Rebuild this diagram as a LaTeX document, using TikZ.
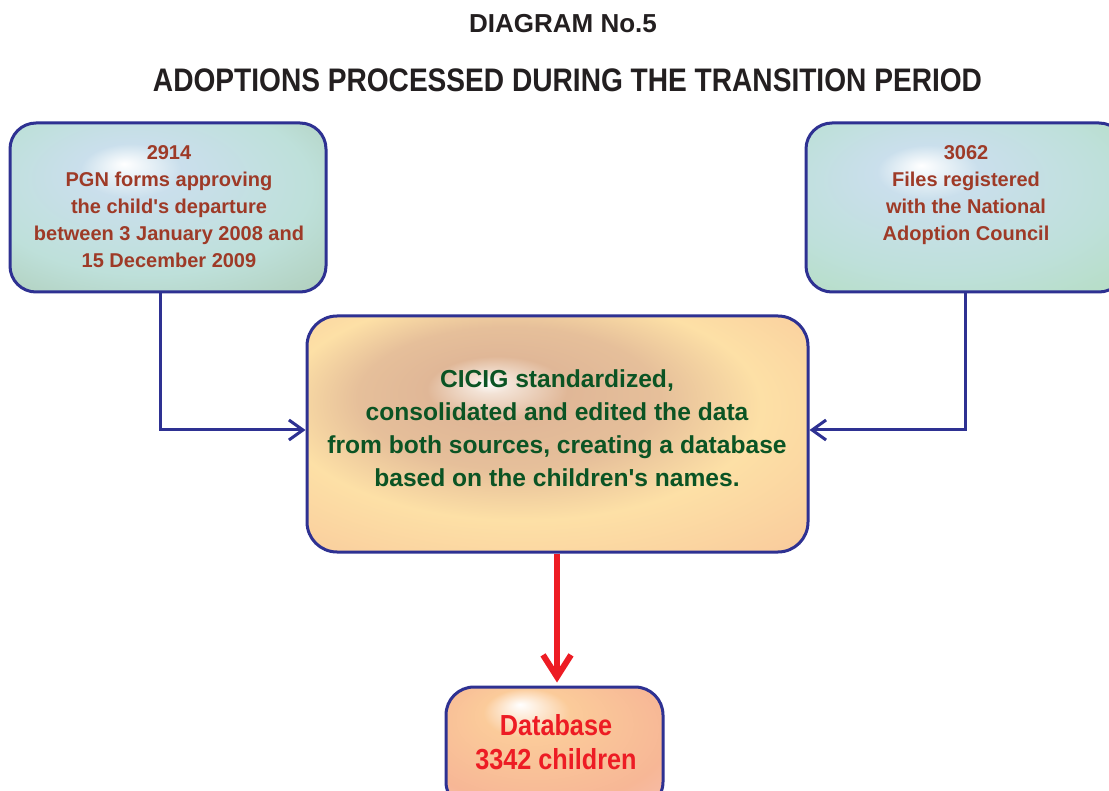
\documentclass[tikz,border=0pt]{standalone}
\usepackage{fontspec}
\setmainfont{Liberation Sans}
\usetikzlibrary{arrows.meta}
\definecolor{navy}{HTML}{2E3192}
\definecolor{brn}{HTML}{9E3A27}
\definecolor{grn}{HTML}{0B5424}
\definecolor{rd}{HTML}{ED1C24}
\definecolor{ttl}{HTML}{231F20}
\definecolor{lbA}{HTML}{CADFEC}
\definecolor{lbB}{HTML}{BEE0DA}
\definecolor{lbC}{HTML}{A3BFA0}
\definecolor{rbC}{HTML}{AEDBB0}
\definecolor{mA}{HTML}{E0B797}
\definecolor{mB}{HTML}{FDE0A6}
\definecolor{mC}{HTML}{F6BC95}
\definecolor{mD}{HTML}{F2A88C}
\definecolor{bA}{HTML}{FBCB9A}
\definecolor{bB}{HTML}{F7B796}
\definecolor{bC}{HTML}{F5C5C8}
\pgfdeclareradialshading{shadeL}{\pgfpoint{-7bp}{13bp}}{color(0bp)=(white); color(8bp)=(lbA); color(26bp)=(lbB); color(50bp)=(lbC)}
\pgfdeclareradialshading{shadeR}{\pgfpoint{-7bp}{12.5bp}}{color(0bp)=(white); color(8bp)=(lbA); color(26bp)=(lbB); color(50bp)=(rbC)}
\pgfdeclareradialshading{shadeM}{\pgfpoint{-7bp}{11bp}}{color(0bp)=(white); color(2bp)=(white!60!mA); color(7bp)=(mA); color(15bp)=(mA!80!mB); color(24bp)=(mB); color(36bp)=(mB!50!mC); color(44bp)=(mC); color(50bp)=(mD)}
\pgfdeclareradialshading{shadeB}{\pgfpoint{-8bp}{18bp}}{color(0bp)=(white); color(10bp)=(bA); color(30bp)=(bB); color(50bp)=(bC)}
\tikzset{
  box/.style={draw=navy, line width=3pt, inner sep=0pt, shade},
  conn/.style={draw=navy, line width=3pt, -{Straight Barb[length=14pt, width=20pt, line width=3pt]}},
  redconn/.style={draw=rd, line width=6pt, -{Straight Barb[length=22pt, width=28pt, line width=6pt]}},
  txt/.style={inner sep=0pt, align=center, font=\bfseries},
}
\begin{document}
\begin{tikzpicture}[x=1pt, y=-1pt]
\useasboundingbox (0,0) rectangle (1109,791);
\fill[white] (0,0) rectangle (1109,791);
% titles
\node[txt, anchor=base, text=ttl, font=\bfseries\fontsize{26}{30}\selectfont] (t1) at (563,33) {DIAGRAM No.5};
\node[txt, anchor=base, text=ttl] (t2) at (567.5,92) {\scalebox{0.862}[1]{\fontsize{32.6}{36}\selectfont ADOPTIONS PROCESSED DURING THE TRANSITION PERIOD}};
% boxes
\node[box, shading=shadeL, rounded corners=26pt, minimum width=316pt, minimum height=169pt] (L) at (168,207.5) {};
\node[box, shading=shadeR, rounded corners=26pt, minimum width=319pt, minimum height=169pt] (R) at (965.5,207.5) {};
\node[box, shading=shadeM, rounded corners=30pt, minimum width=501pt, minimum height=236pt] (M) at (557.5,434) {};
\node[box, shading=shadeB, rounded corners=28pt, minimum width=217pt, minimum height=123pt] (D) at (554.5,748.5) {};
% texts
\node[txt, anchor=north, text=brn, font=\bfseries\fontsize{20}{27}\selectfont] (Lt) at (169,145.5) {2914\\PGN forms approving\\the child\textquotesingle s departure\\between 3 January 2008 and\\15 December 2009};
\node[txt, anchor=north, text=brn, font=\bfseries\fontsize{20}{27}\selectfont] (Rt) at (966,145.5) {3062\\Files registered\\with the National\\Adoption Council};
\node[txt, anchor=north, text=grn, font=\bfseries\fontsize{24.6}{33.3}\selectfont] (Mt) at (557,369) {CICIG standardized,\\consolidated and edited the data\\from both sources, creating a database\\based on the children\textquotesingle s names.};
\node[txt, anchor=north, text=rd] (Dt) at (556,711.5) {\scalebox{0.87}[1]{\fontsize{29}{34}\selectfont\begin{tabular}{@{}c@{}}Database\\[-0.5pt]3342 children\end{tabular}}};
% connectors
\draw[conn] ([xshift=-8pt]L.south) |- ([yshift=4pt]M.west);
\draw[conn] (R.south) |- ([yshift=4pt]M.east);
\coordinate (rx) at (557,0);
\draw[redconn, shorten >=3pt] (M.south -| rx) -- (D.north -| rx);
\end{tikzpicture}
\end{document}
